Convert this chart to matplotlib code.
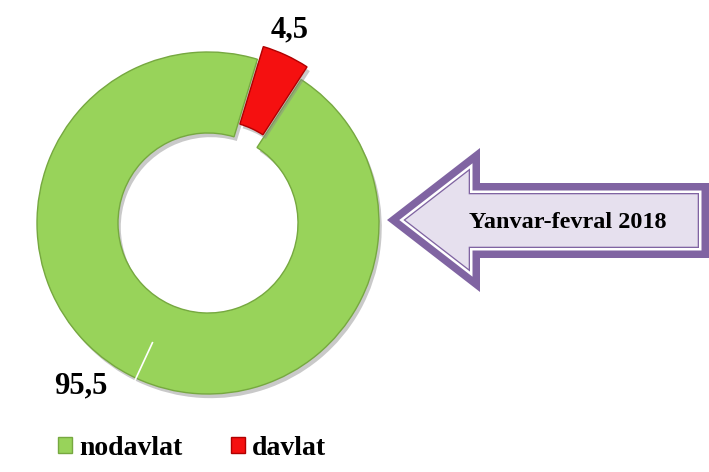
import numpy as np
import matplotlib
matplotlib.use("Agg")
import matplotlib.pyplot as plt
from matplotlib.patches import Polygon
import matplotlib.patheffects as pe

# ---- data ----
categories = ["nodavlat", "davlat"]
values = [95.5, 4.5]
colors = ["#98D35A", "#F51010"]
edge_colors = ["#76A840", "#B00000"]
period_label = "Yanvar-fevral 2018"

W, H = 709, 472
fig = plt.figure(figsize=(W / 100, H / 100), dpi=100)
ax = fig.add_axes([0, 0, 1, 1])

FONT = "Liberation Serif"
cx, cy = 208, H - 223
R_out, R_in = 171, 90

wedges, _ = ax.pie(values, colors=colors, startangle=57, counterclock=False,
                   explode=[0, 14], radius=R_out, center=(cx, cy),
                   wedgeprops=dict(width=R_out - R_in, linewidth=1.0))
for w, ec in zip(wedges, edge_colors):
    w.set_edgecolor(ec)
    w.set_path_effects([pe.SimplePatchShadow(offset=(2, -3), shadow_rgbFace="#888888", alpha=0.45),
                        pe.Normal()])

ax.set_xlim(0, W)
ax.set_ylim(0, H)
ax.set_aspect("auto")
ax.axis("off")

def fmt(v):
    return f"{v:.1f}".replace(".", ",")

# labels
for i, (w, v) in enumerate(zip(wedges, values)):
    mid = np.deg2rad((w.theta1 + w.theta2) / 2)
    if i == 1:
        a = mid + np.deg2rad(2)
        ax.text(cx + 210 * np.cos(a), cy + 210 * np.sin(a), fmt(v), ha="center", va="center",
                fontsize=22, fontweight="bold", family=FONT)
    else:
        ax.plot([cx + 132 * np.cos(mid), cx + 181 * np.cos(mid)],
                [cy + 132 * np.sin(mid), cy + 181 * np.sin(mid)], color="white", lw=1.2)
        a = mid - np.deg2rad(13)
        ax.text(cx + 207 * np.cos(a), cy + 207 * np.sin(a), fmt(v), ha="center", va="center",
                fontsize=22, fontweight="bold", family=FONT)

# ---- arrow callout ----
def inset(poly, d):
    poly = np.asarray(poly, float)
    n = len(poly)
    area = 0.5 * np.sum(poly[:, 0] * np.roll(poly[:, 1], -1) - np.roll(poly[:, 0], -1) * poly[:, 1])
    sgn = 1 if area > 0 else -1
    lines = []
    for i in range(n):
        p, q = poly[i], poly[(i + 1) % n]
        t = (q - p) / np.linalg.norm(q - p)
        nrm = sgn * np.array([-t[1], t[0]])
        lines.append((p + d * nrm, t))
    out = []
    for i in range(n):
        p1, t1 = lines[i - 1]
        p2, t2 = lines[i]
        A = np.array([t1, -t2]).T
        s = np.linalg.solve(A, p2 - p1)
        out.append(p1 + s[0] * t1)
    return np.array(out)

arrow_px = [(387, 220), (480, 148), (480, 183), (709, 183), (709, 258), (480, 258), (480, 292)]
arrow = np.array([(x, H - y) for x, y in arrow_px])
purple, lav = "#8064A2", "#E6E0EE"
for d, c in [(0, purple), (7.5, "white"), (10, purple), (11.3, lav)]:
    ax.add_patch(Polygon(inset(arrow, d), closed=True, facecolor=c, edgecolor="none"))
ax.text(568, H - 222, period_label, ha="center", va="center", fontsize=17.5,
        fontweight="bold", family=FONT)

# ---- legend ----
leg = ax.legend(wedges, categories, loc="lower left", bbox_to_anchor=(58 / W, 11 / H),
                ncol=2, frameon=False, borderpad=0, borderaxespad=0,
                handlelength=0.5, handleheight=0.5, handletextpad=0.25, columnspacing=1.75,
                prop=dict(family=FONT, weight="bold", size=20))
for h in leg.legend_handles:
    h.set_path_effects([])

fig.savefig("out.png", dpi=100)
